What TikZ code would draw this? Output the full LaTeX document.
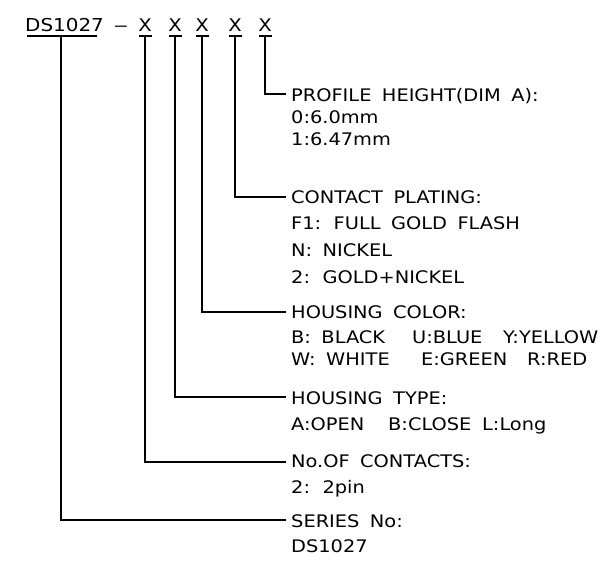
\documentclass[tikz,border=0pt]{standalone}
\usepackage{fontspec}
\setmainfont{DejaVu Sans}[FakeStretch=1.12,WordSpace=1.7]
\begin{document}
\begin{tikzpicture}[x=1pt,y=-1pt,
  txt/.style={anchor=base west,inner sep=0pt,font=\fontsize{17.3}{20}\selectfont},
  code/.style={anchor=base,inner sep=0pt,font=\fontsize{17.5}{20}\selectfont},
  lead/.style={line width=1.2pt},
  uline/.style={line width=1.2pt}]
\useasboundingbox (0,0) rectangle (608,565);
% top code row
\node[txt,font=\fontsize{17.8}{20}\selectfont] (sn) at (25,31) {DS1027};
\node[code] (dash) at (121,31) {\scalebox{1.5}[1]{--}};
\node[code] (x1) at (145,31) {X};
\node[code] (x2) at (175,31) {X};
\node[code] (x3) at (202,31) {X};
\node[code] (x4) at (235,31) {X};
\node[code] (x5) at (265,31) {X};
% underlines
\coordinate (snl) at (27,36); \coordinate (snr) at (97,36);
\draw[uline] (snl) -- (snr);
\foreach \i/\xx in {1/145,2/175,3/202,4/235,5/265}{
  \coordinate (u\i l) at (\xx-6.5,36);
  \coordinate (u\i r) at (\xx+6.5,36);
  \draw[uline] (u\i l) -- (u\i r);
}
\coordinate (snb) at (61,36);
% leader ends
\coordinate (e5) at (286,94);
\coordinate (e4) at (286,197);
\coordinate (e3) at (286,312);
\coordinate (e2) at (286,397);
\coordinate (e1) at (286,462);
\coordinate (e0) at (286,520);
\draw[lead] (x5 |- snl) |- (e5);
\draw[lead] (x4 |- snl) |- (e4);
\draw[lead] (x3 |- snl) |- (e3);
\draw[lead] (x2 |- snl) |- (e2);
\draw[lead] (x1 |- snl) |- (e1);
\draw[lead] (snb) |- (e0);
% profile height
\node[txt] (ph) at (291,101.5) {PROFILE HEIGHT(DIM A):};
\node[txt] (ph1) at (291,123.5) {0:6.0mm};
\node[txt] (ph2) at (291,145.5) {1:6.47mm};
% contact plating
\node[txt] (cp) at (291,203) {CONTACT PLATING:};
\node[txt] (cp1) at (291,229.5) {F1: FULL GOLD FLASH};
\node[txt] (cp2) at (291,256.5) {N: NICKEL};
\node[txt] (cp3) at (291,283) {2: GOLD+NICKEL};
% housing color
\node[txt] (hc) at (291,318) {HOUSING COLOR:};
\node[txt] (hc1) at (291,343) {B: BLACK};
\node[txt] (hc2) at (412,343) {U:BLUE};
\node[txt] (hc3) at (503,343) {Y:YELLOW};
\node[txt] (hc4) at (291,365) {W: WHITE};
\node[txt] (hc5) at (421,365) {E:GREEN};
\node[txt] (hc6) at (527,365) {R:RED};
% housing type
\node[txt] (ht) at (291,404.5) {HOUSING TYPE:};
\node[txt] (ht1) at (291,430) {A:OPEN};
\node[txt] (ht2) at (388,430) {B:CLOSE};
\node[txt] (ht3) at (482,430) {L:Long};
% contacts
\node[txt] (nc) at (291,467) {No.OF CONTACTS:};
\node[txt] (nc1) at (291,493) {2: 2pin};
% series
\node[txt] (sr) at (291,527) {SERIES No:};
\node[txt] (sr1) at (291,552) {DS1027};
\end{tikzpicture}
\end{document}
